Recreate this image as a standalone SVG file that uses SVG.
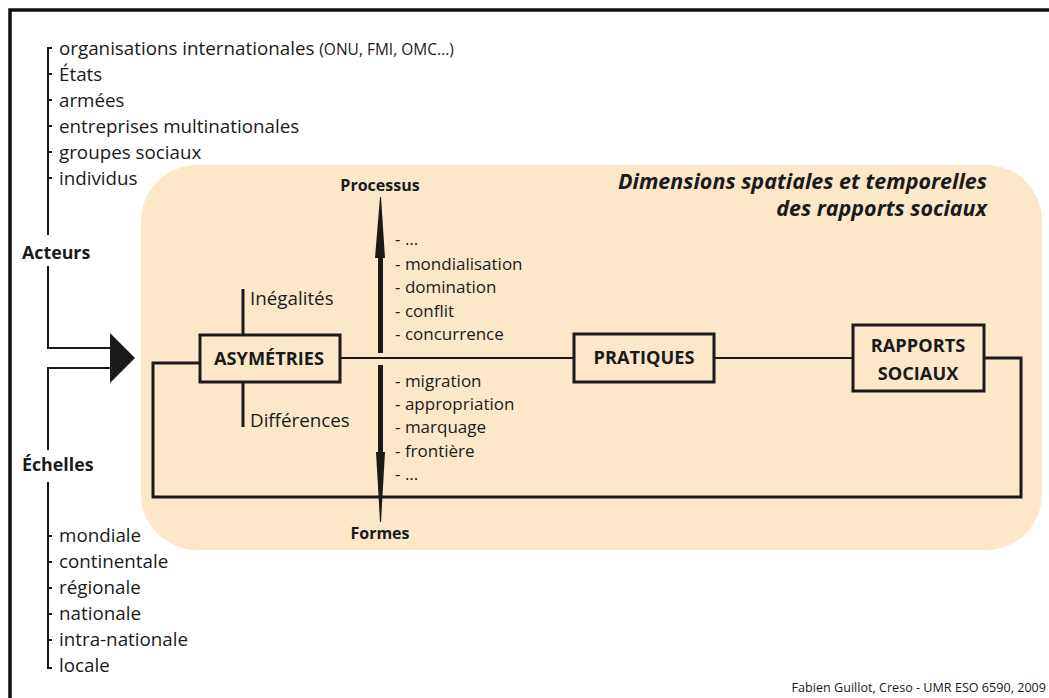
<svg xmlns="http://www.w3.org/2000/svg" width="1049" height="698" viewBox="0 0 1049 698">
<style>
text{font-family:"Open Sans","Noto Sans","Liberation Sans",sans-serif;fill:#1a1a1a}
.it{font-size:18.8px}
.sm{font-size:15.5px}
.lst{font-size:17px}
.b{font-weight:bold}
.lbl{font-size:17.8px;font-weight:bold}
.bx{font-size:18.2px;font-weight:bold;text-anchor:middle}
.box{fill:none;stroke:#1a1a1a;stroke-width:3}
.ln{fill:none;stroke:#1a1a1a;stroke-width:2}
.thk{fill:none;stroke:#1a1a1a;stroke-width:3}
.c{text-anchor:middle}
.ttl{font-size:21.5px;font-weight:bold;font-style:italic;text-anchor:end}
</style>
<rect x="0" y="0" width="1049" height="698" fill="#fff"/>
<g id="frame">
<path d="M10,698 V10 H1049" fill="none" stroke="#111" stroke-width="3.5"/>
</g>
<rect id="zone" x="141" y="165" width="901" height="385" rx="56" ry="56" fill="#fce7c9"/>

<g id="connectors">
<path class="ln" d="M52,48 H48 V235"/>
<path class="ln" d="M48,74 H52 M48,100 H52 M48,126 H52 M48,152 H52 M48,178 H52"/>
<path class="ln" d="M48,266 V348 H112"/>
<path class="ln" d="M112,368 H48 V450"/>
<path class="ln" d="M48,482 V668 H52"/>
<path class="ln" d="M48,536 H52 M48,562 H52 M48,588 H52 M48,614 H52 M48,640 H52"/>
<polygon points="110,333 135,358 110,383" fill="#1a1a1a"/>
<path class="thk" d="M200,363 H153 V497 H1021 V358 H984"/>
<path class="ln" d="M340,358 H574"/>
<path class="ln" d="M714,358 H853"/>
<path class="thk" d="M243,289 V335"/>
<path class="thk" d="M243,382 V427"/>
<polygon points="380,197 381,197 385,258 383,258 383,353 378,353 378,258 375,258" fill="#1a1a1a"/>
<polygon points="378,365 383,365 383,452 385,452 381,522 380,522 376,452 378,452" fill="#1a1a1a"/>
</g>

<g id="acteurs-list">
<text class="it" x="59" y="55">organisations internationales <tspan class="sm">(ONU, FMI, OMC...)</tspan></text>
<text class="it" x="59" y="81">États</text>
<text class="it" x="59" y="107">armées</text>
<text class="it" x="59" y="133">entreprises multinationales</text>
<text class="it" x="59" y="159">groupes sociaux</text>
<text class="it" x="59" y="185">individus</text>
</g>
<g id="acteurs"><text class="lbl" x="22" y="259">Acteurs</text></g>
<g id="echelles"><text class="lbl" x="22" y="471">Échelles</text></g>
<g id="echelles-list">
<text class="it" x="59" y="542">mondiale</text>
<text class="it" x="59" y="568">continentale</text>
<text class="it" x="59" y="594">régionale</text>
<text class="it" x="59" y="620">nationale</text>
<text class="it" x="59" y="646">intra-nationale</text>
<text class="it" x="59" y="672">locale</text>
</g>

<g id="title">
<text class="ttl" x="987" y="189">Dimensions spatiales et temporelles</text>
<text class="ttl" x="987" y="216">des rapports sociaux</text>
</g>
<g id="processus"><text class="c b" x="380" y="191" style="font-size:16px">Processus</text></g>
<g id="formes"><text class="c b" x="380" y="539" style="font-size:16px">Formes</text></g>

<g id="processus-list">
<text class="lst" x="395" y="245">- ...</text>
<text class="lst" x="395" y="270">- mondialisation</text>
<text class="lst" x="395" y="293">- domination</text>
<text class="lst" x="395" y="317">- conflit</text>
<text class="lst" x="395" y="340">- concurrence</text>
</g>
<g id="formes-list">
<text class="lst" x="395" y="387">- migration</text>
<text class="lst" x="395" y="410">- appropriation</text>
<text class="lst" x="395" y="433">- marquage</text>
<text class="lst" x="395" y="457">- frontière</text>
<text class="lst" x="395" y="480">- ...</text>
</g>

<g id="asymetries">
<rect class="box" x="200" y="335" width="140" height="47"/>
<text class="bx" x="269" y="365">ASYMÉTRIES</text>
</g>
<g id="inegalites"><text class="it" x="250" y="305">Inégalités</text></g>
<g id="differences"><text class="it" x="250" y="427">Différences</text></g>
<g id="pratiques">
<rect class="box" x="574" y="334" width="140" height="48"/>
<text class="bx" x="644" y="364">PRATIQUES</text>
</g>
<g id="rapports">
<rect class="box" x="853" y="325" width="131" height="66"/>
<text class="bx" x="918" y="352">RAPPORTS</text>
<text class="bx" x="918" y="380">SOCIAUX</text>
</g>
<g id="credit"><text x="1046" y="692" style="font-size:12.6px;text-anchor:end">Fabien Guillot, Creso - UMR ESO 6590, 2009</text></g>
</svg>
